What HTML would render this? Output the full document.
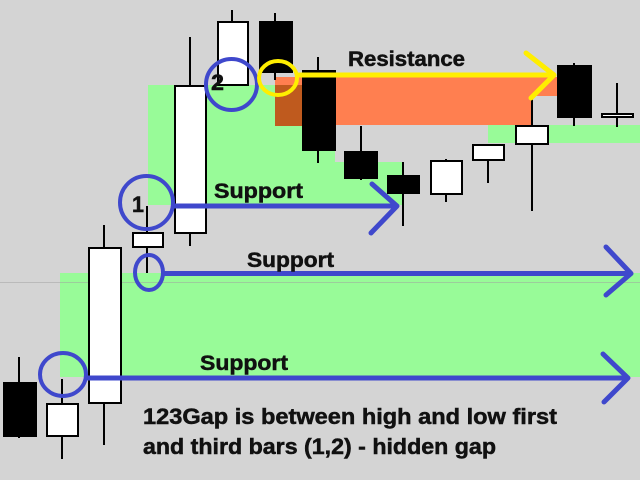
<!DOCTYPE html>
<html><head><meta charset="utf-8"><style>
html,body{margin:0;padding:0;background:#d4d4d4;}
svg{display:block;}
text{font-family:"Liberation Sans",Arial,sans-serif;font-weight:bold;fill:#111;stroke:#111;stroke-width:0.5;}
</style></head><body>
<svg width="640" height="480" viewBox="0 0 640 480" xmlns="http://www.w3.org/2000/svg">
<rect x="0" y="0" width="640" height="480" fill="#d4d4d4"/>
<!-- green zones -->
<polygon points="148,85 335,85 335,162 403,162 403,205 148,205" fill="#98fb98"/>
<rect x="60" y="273" width="580" height="104" fill="#98fb98"/>
<rect x="488" y="125" width="152" height="18" fill="#98fb98"/>
<line x1="0" y1="282.5" x2="640" y2="282.5" stroke="#a0a0a0" stroke-opacity="0.5" stroke-width="1"/>
<!-- resistance zone -->
<polygon points="275,77 557,77 557,96 531,96 531,125 275,125" fill="#ff7f50"/>
<rect x="275" y="85" width="27" height="41" fill="#bf5a1e"/>
<!-- candles -->
<g stroke="#000" stroke-width="2">
<line x1="19" y1="357" x2="19" y2="438"/>
<rect x="4" y="383" width="32" height="53" fill="#000"/>
<line x1="62" y1="379" x2="62" y2="459"/>
<rect x="47" y="404" width="31" height="32" fill="#fff"/>
<line x1="104" y1="225" x2="104" y2="445"/>
<rect x="89" y="248" width="32" height="155" fill="#fff"/>
<line x1="147" y1="206" x2="147" y2="273"/>
<rect x="133" y="233" width="30" height="14" fill="#fff"/>
<line x1="190" y1="37" x2="190" y2="246"/>
<rect x="175" y="86" width="31" height="147" fill="#fff"/>
<line x1="232" y1="10" x2="232" y2="22"/>
<rect x="218" y="22" width="30" height="63" fill="#fff"/>
<line x1="275" y1="13" x2="275" y2="80"/>
<rect x="260" y="22" width="32" height="50" fill="#000"/>
<line x1="318" y1="57" x2="318" y2="163"/>
<rect x="303" y="71" width="32" height="79" fill="#000"/>
<line x1="361" y1="126" x2="361" y2="180"/>
<rect x="345" y="152" width="32" height="26" fill="#000"/>
<line x1="403" y1="162" x2="403" y2="226"/>
<rect x="388" y="176" width="31" height="17" fill="#000"/>
<line x1="446" y1="159" x2="446" y2="202"/>
<rect x="431" y="161" width="31" height="33" fill="#fff"/>
<line x1="488" y1="144" x2="488" y2="183"/>
<rect x="473" y="145" width="31" height="15" fill="#fff"/>
<line x1="532" y1="99" x2="532" y2="211"/>
<rect x="516" y="126" width="32" height="18" fill="#fff"/>
<line x1="574" y1="63" x2="574" y2="126"/>
<rect x="558" y="66" width="33" height="51" fill="#000"/>
<line x1="617" y1="83" x2="617" y2="127"/>
<rect x="602" y="114" width="31" height="3" fill="#fff"/>
</g>
<!-- blue support arrows -->
<g stroke="#3f48cc" stroke-width="5" fill="none" stroke-linecap="round" stroke-linejoin="round">
<line x1="175" y1="206" x2="396" y2="206"/>
<polyline points="372,184 397,206 371,233"/>
<line x1="165" y1="273.5" x2="630" y2="273.5"/>
<polyline points="606,247 631,273.5 606,295"/>
<line x1="88" y1="378" x2="627" y2="378"/>
<polyline points="603,354 628,378 604,402"/>
<circle cx="146.5" cy="202.5" r="26.5" stroke-width="4"/>
<circle cx="231.5" cy="84.5" r="25.5" stroke-width="4"/>
<ellipse cx="149" cy="272.5" rx="14" ry="17.5" stroke-width="4"/>
<ellipse cx="63" cy="374.5" rx="23" ry="21.5" stroke-width="4"/>
</g>
<!-- yellow resistance arrow -->
<g stroke="#ffee00" stroke-width="5" fill="none" stroke-linecap="round" stroke-linejoin="round">
<line x1="299" y1="75" x2="553" y2="75"/>
<polyline points="526,53 554,75 531,98"/>
<ellipse cx="278" cy="78" rx="19" ry="17" stroke-width="4"/>
</g>
<!-- labels -->
<text x="348" y="66" font-size="21" textLength="117" lengthAdjust="spacingAndGlyphs">Resistance</text>
<text x="214" y="198" font-size="21" textLength="89" lengthAdjust="spacingAndGlyphs">Support</text>
<text x="247" y="267" font-size="21" textLength="87" lengthAdjust="spacingAndGlyphs">Support</text>
<text x="200" y="370" font-size="21" textLength="88" lengthAdjust="spacingAndGlyphs">Support</text>
<text x="132" y="212" font-size="22" textLength="12" lengthAdjust="spacingAndGlyphs">1</text>
<text x="211" y="90" font-size="22" textLength="13" lengthAdjust="spacingAndGlyphs">2</text>
<text x="143" y="424" font-size="22" textLength="414" lengthAdjust="spacingAndGlyphs">123Gap is between high and low first</text>
<text x="143" y="454" font-size="22" textLength="353" lengthAdjust="spacingAndGlyphs">and third bars (1,2) - hidden gap</text>
</svg>
</body></html>
